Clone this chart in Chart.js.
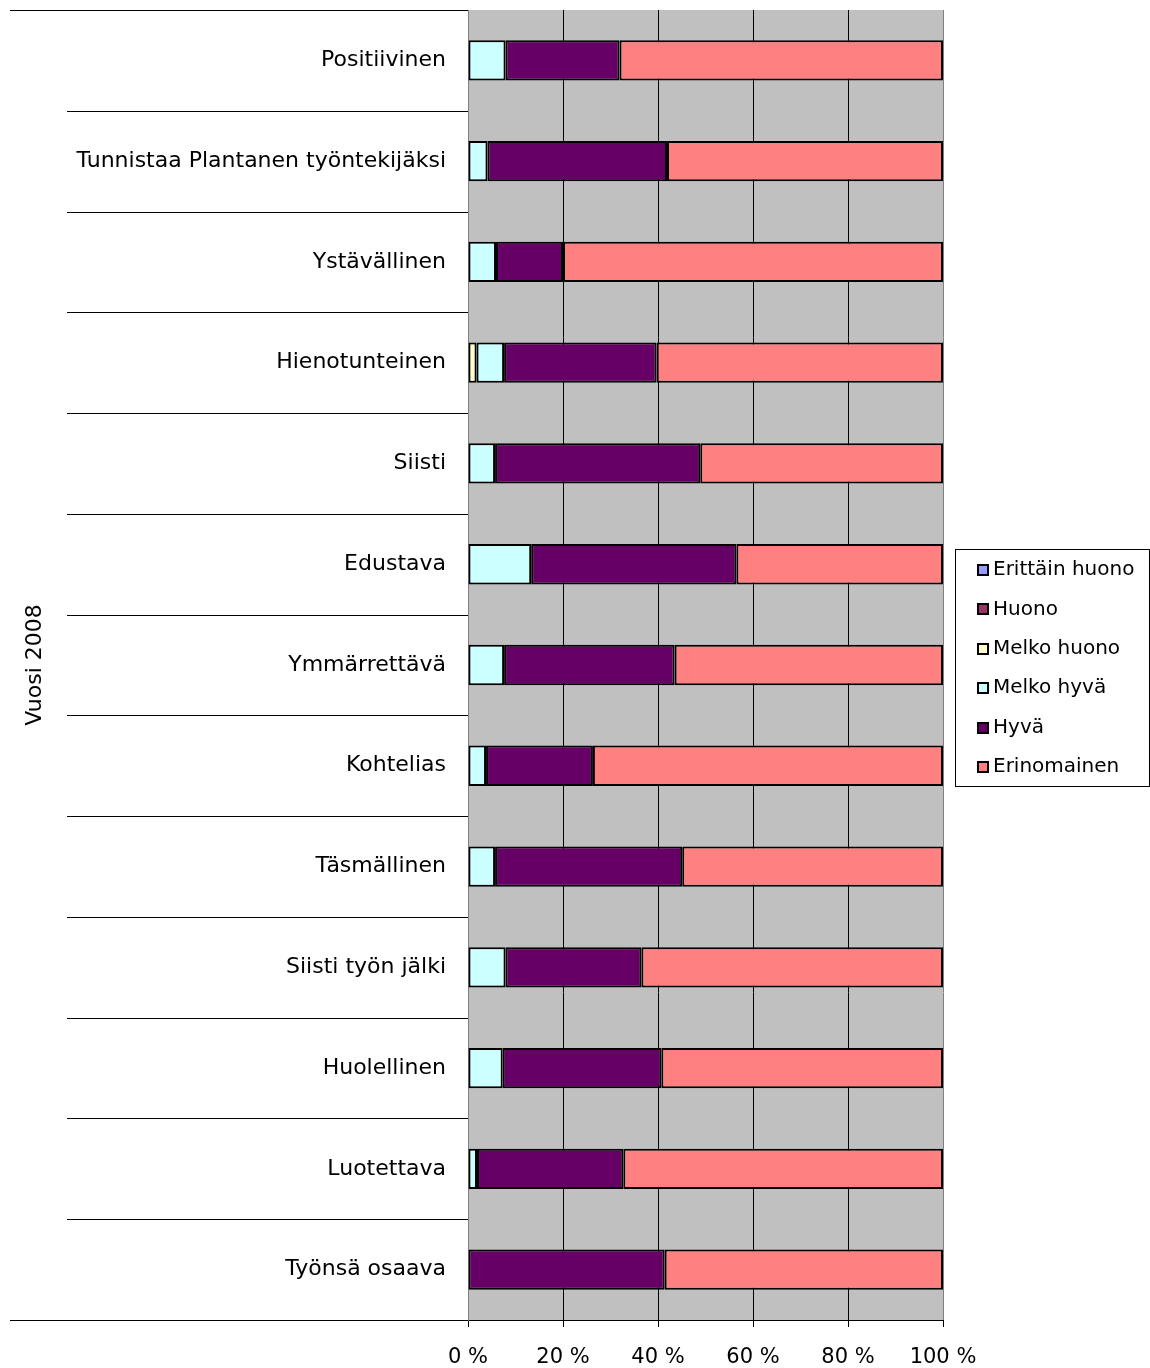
<!DOCTYPE html>
<html>
<head>
<meta charset="utf-8">
<script src="https://cdn.jsdelivr.net/npm/chart.js@4"></script>
<style>
  html, body { margin: 0; padding: 0; background: #fff; }
  #wrap { width: 1150px; height: 1368px; position: relative; }
</style>
</head>
<body>
<div id="wrap"><canvas id="chart" width="1150" height="1368"></canvas></div>
<script>
const categories = [
  "Positiivinen", "Tunnistaa Plantanen työntekijäksi", "Ystävällinen", "Hienotunteinen",
  "Siisti", "Edustava", "Ymmärrettävä", "Kohtelias", "Täsmällinen",
  "Siisti työn jälki", "Huolellinen", "Luotettava", "Työnsä osaava"
];
const groupLabel = "Vuosi 2008";

const erittainHuono = [0, 0, 0, 0, 0, 0, 0, 0, 0, 0, 0, 0, 0];
const huono         = [0, 0, 0, 0, 0, 0, 0, 0, 0, 0, 0, 0, 0];
const melkoHuono    = [0, 0, 0, 1.8, 0, 0, 0, 0, 0, 0, 0, 0, 0];
const melkoHyva     = [7.9, 4.1, 5.9, 5.8, 5.7, 13.3, 7.6, 3.8, 5.7, 7.9, 7.3, 1.9, 0];
const hyva          = [24.0, 37.8, 14.1, 32.1, 43.2, 43.2, 35.9, 22.5, 39.4, 28.6, 33.4, 30.8, 41.4];
const erinomainen   = [68.1, 58.1, 80.0, 60.3, 51.1, 43.5, 56.5, 73.7, 54.9, 63.5, 59.3, 67.3, 58.6];

const xTicks = [0, 20, 40, 60, 80, 100];

const FONT = "'DejaVu Sans', sans-serif";

const series = [
  { label: "Erittäin huono", data: erittainHuono, color: "#9999FF" },
  { label: "Huono", data: huono, color: "#993366" },
  { label: "Melko huono", data: melkoHuono, color: "#FFFFCC" },
  { label: "Melko hyvä", data: melkoHyva, color: "#CCFFFF" },
  { label: "Hyvä", data: hyva, color: "#660066" },
  { label: "Erinomainen", data: erinomainen, color: "#FF8080" },
];

// gray plot background
const plotBg = {
  id: "plotBg",
  beforeDraw(chart) {
    const { ctx, chartArea: a } = chart;
    ctx.save();
    ctx.fillStyle = "#C0C0C0";
    ctx.fillRect(a.left, a.top, a.right - a.left, a.bottom - a.top);
    ctx.restore();
  }
};

// category separators, group label and legend box
const extras = {
  id: "extras",
  afterDraw(chart) {
    const { ctx, chartArea: a } = chart;
    const n = categories.length;
    const step = (a.bottom - a.top) / n;
    ctx.save();
    ctx.strokeStyle = "#000";
    ctx.lineWidth = 1;
    for (let i = 0; i <= n; i++) {
      const y = Math.round(a.top + i * step) + 0.5;
      const x0 = (i === 0 || i === n) ? 10 : 67;
      ctx.beginPath();
      ctx.moveTo(x0, y);
      ctx.lineTo(a.left, y);
      ctx.stroke();
    }

    ctx.fillStyle = "#000";
    ctx.font = "22px " + FONT;
    ctx.textAlign = "center";
    ctx.textBaseline = "middle";
    ctx.translate(35, (a.top + a.bottom) / 2);
    ctx.rotate(-Math.PI / 2);
    ctx.fillText(groupLabel, 0, 0);
    ctx.restore();

    // legend
    ctx.save();
    ctx.strokeStyle = "#000";
    ctx.lineWidth = 1;
    ctx.strokeRect(955.5, 549.5, 194, 237);
    ctx.font = "20px " + FONT;
    ctx.textAlign = "left";
    ctx.textBaseline = "middle";
    series.forEach((s, i) => {
      const cy = 569 + i * 39.4;
      const top = Math.round(cy - 5);
      ctx.fillStyle = "#000";
      ctx.fillRect(977, top, 12, 12);
      ctx.fillStyle = s.color;
      ctx.fillRect(979, top + 2, 8, 8);
      ctx.fillStyle = "#000";
      ctx.fillText(s.label, 993, cy + 1);
    });
    ctx.restore();
  }
};

new Chart(document.getElementById("chart"), {
  type: "bar",
  data: {
    labels: categories,
    datasets: series.map(s => ({
      label: s.label,
      data: s.data,
      backgroundColor: s.color,
      borderColor: "#000",
      borderWidth: 2,
      borderSkipped: false,
      barPercentage: 0.4,
      categoryPercentage: 1,
    }))
  },
  options: {
    indexAxis: "y",
    responsive: false,
    animation: false,
    layout: { padding: { left: 0, right: 207, top: 10, bottom: 0 } },
    scales: {
      x: {
        stacked: true,
        min: 0,
        max: 100,
        afterBuildTicks: (scale) => { scale.ticks = xTicks.map(v => ({ value: v })); },
        afterFit: (scale) => { scale.height = 48; scale.paddingLeft = 0; scale.paddingRight = 0; },
        border: { display: true, color: "#000", width: 1 },
        grid: {
          color: (c) => (c.tick && (c.tick.value === 0 || c.tick.value === 100)) ? "#808080" : "#000",
          tickColor: "#000",
          tickLength: 7,
          drawTicks: true,
        },
        ticks: {
          color: "#000",
          font: { family: FONT, size: 21 },
          padding: 18,
          maxRotation: 0,
          autoSkip: false,
          callback: (v) => v + " %",
        }
      },
      y: {
        stacked: true,
        afterFit: (scale) => { scale.width = 468; scale.paddingTop = 0; scale.paddingBottom = 0; },
        border: { display: true, color: "#808080", width: 1 },
        grid: { display: false, drawTicks: false },
        ticks: {
          color: "#000",
          font: { family: FONT, size: 22 },
          padding: 22,
          autoSkip: false,
        }
      }
    },
    plugins: {
      legend: { display: false },
      tooltip: { enabled: false },
    }
  },
  plugins: [plotBg, extras]
});
</script>
</body>
</html>
